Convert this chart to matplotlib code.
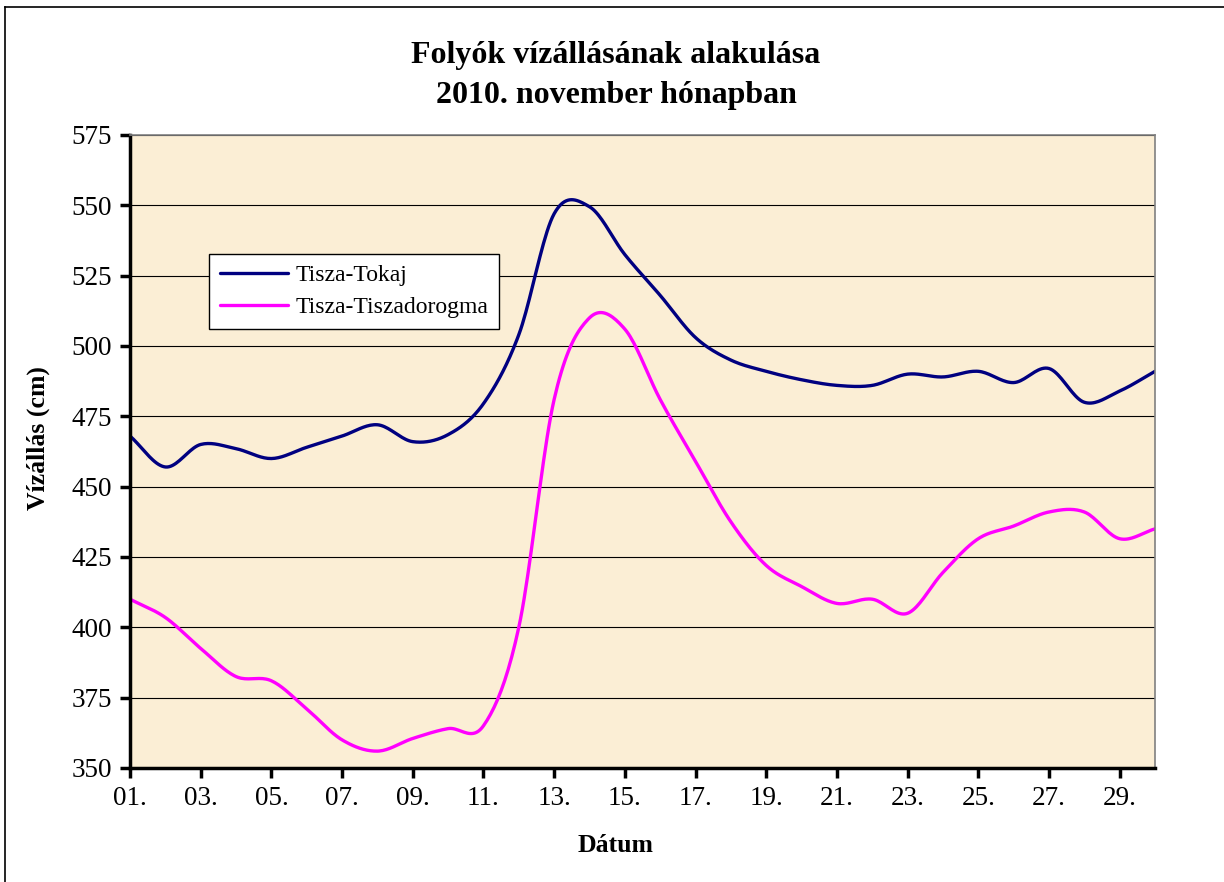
import matplotlib
matplotlib.use('Agg')
import matplotlib.pyplot as plt
from matplotlib.lines import Line2D
import numpy as np

plt.rcParams.update({
    'font.family': ['Liberation Serif', 'DejaVu Serif'],
    'font.size': 19,
})

# napok (1..30) es vizallas (cm), a kepről leolvasva
days = list(range(1, 31))
tokaj = [468, 457, 465, 463.5, 460, 464, 468, 472, 466, 468.5,
         479.5, 504, 547, 549.5, 532.5, 518, 503, 495, 491, 488,
         486, 486, 490, 489, 491, 487, 492, 480, 484, 491]
tiszadorogma = [410, 403.5, 392.5, 382.5, 381, 371, 360, 356, 360.5, 364,
                365, 400, 481, 510, 506, 481, 459, 437.5, 422, 414.5,
                408.5, 410, 405, 419.5, 431.5, 436, 441, 441, 431.5, 435]
tick_days = list(range(1, 31, 2))
tick_labels = [f"{d:02d}." for d in tick_days]
y_ticks = [350, 375, 400, 425, 450, 475, 500, 525, 550, 575]

SERIES = [
    ("Tisza-Tokaj", tokaj, "#000080"),
    ("Tisza-Tiszadorogma", tiszadorogma, "#FF00FF"),
]


def smooth(x, y, n=20):
    """Catmull-Rom curve through the points (like Excel's smoothed line)."""
    x = np.asarray(x, float)
    y = np.asarray(y, float)
    px = np.concatenate([[2 * x[0] - x[1]], x, [2 * x[-1] - x[-2]]])
    py = np.concatenate([[2 * y[0] - y[1]], y, [2 * y[-1] - y[-2]]])
    t = np.linspace(0, 1, n, endpoint=False)
    xs, ys = [], []
    for i in range(1, len(px) - 2):
        for p, out in ((px, xs), (py, ys)):
            p0, p1, p2, p3 = p[i - 1], p[i], p[i + 1], p[i + 2]
            out.append(0.5 * (2 * p1 + (-p0 + p2) * t
                              + (2 * p0 - 5 * p1 + 4 * p2 - p3) * t ** 2
                              + (-p0 + 3 * p1 - 3 * p2 + p3) * t ** 3))
    xs.append([x[-1]])
    ys.append([y[-1]])
    return np.concatenate(xs), np.concatenate(ys)


fig = plt.figure(figsize=(12.24, 8.82), dpi=100)
ax = fig.add_axes([130 / 1224, 1 - 768 / 882, 1025 / 1224, 633 / 882])
ax.set_facecolor('#FBEED5')

for name, vals, color in SERIES:
    sx, sy = smooth(days, vals)
    ax.plot(sx, sy, color=color, lw=2.4, label=name, solid_capstyle='round')

ax.set_xlim(1, 30)
ax.set_ylim(350, 575)
ax.set_xticks(tick_days)
ax.set_xticklabels(tick_labels)
ax.set_yticks(y_ticks)
ax.yaxis.grid(True, color='black', lw=0.8)
ax.set_axisbelow(True)

ax.tick_params(axis='both', direction='out', length=7, width=2.5,
               labelsize=19.5, pad=6)
for side in ('left', 'bottom'):
    ax.spines[side].set_linewidth(2.5)
    ax.spines[side].set_color('black')
for side in ('top', 'right'):
    ax.spines[side].set_linewidth(1.2)
    ax.spines[side].set_color('#808080')

fig.text(38 / 1224, 1 - 438 / 882, 'Vízállás (cm)', rotation=90,
         ha='center', va='center', fontsize=18.5, fontweight='bold')
fig.text(616 / 1224, 1 - 845 / 882, 'Dátum', ha='center', va='center',
         fontsize=18.5, fontweight='bold')
fig.text(616 / 1224, 1 - 76 / 882,
         'Folyók vízállásának alakulása\n2010. november hónapban',
         ha='center', va='center', fontsize=23, fontweight='bold',
         linespacing=1.5)

leg = ax.legend(loc='upper left', bbox_to_anchor=(209 / 1224, 1 - 254 / 882),
                bbox_transform=fig.transFigure, borderaxespad=0,
                fontsize=17, fancybox=False, framealpha=1,
                edgecolor='black', handlelength=2.9, handletextpad=0.3,
                borderpad=0.45, labelspacing=0.45)
leg.get_frame().set_linewidth(1.0)
leg.get_frame().set_facecolor('white')

# keret a diagram bal es felso szelen
fig.add_artist(Line2D([5 / 1224, 5 / 1224], [0, 1 - 7 / 882],
                      transform=fig.transFigure, color='black', lw=1.2))
fig.add_artist(Line2D([5 / 1224, 1], [1 - 7 / 882, 1 - 7 / 882],
                      transform=fig.transFigure, color='black', lw=1.2))

fig.savefig('out.png', dpi=100)
